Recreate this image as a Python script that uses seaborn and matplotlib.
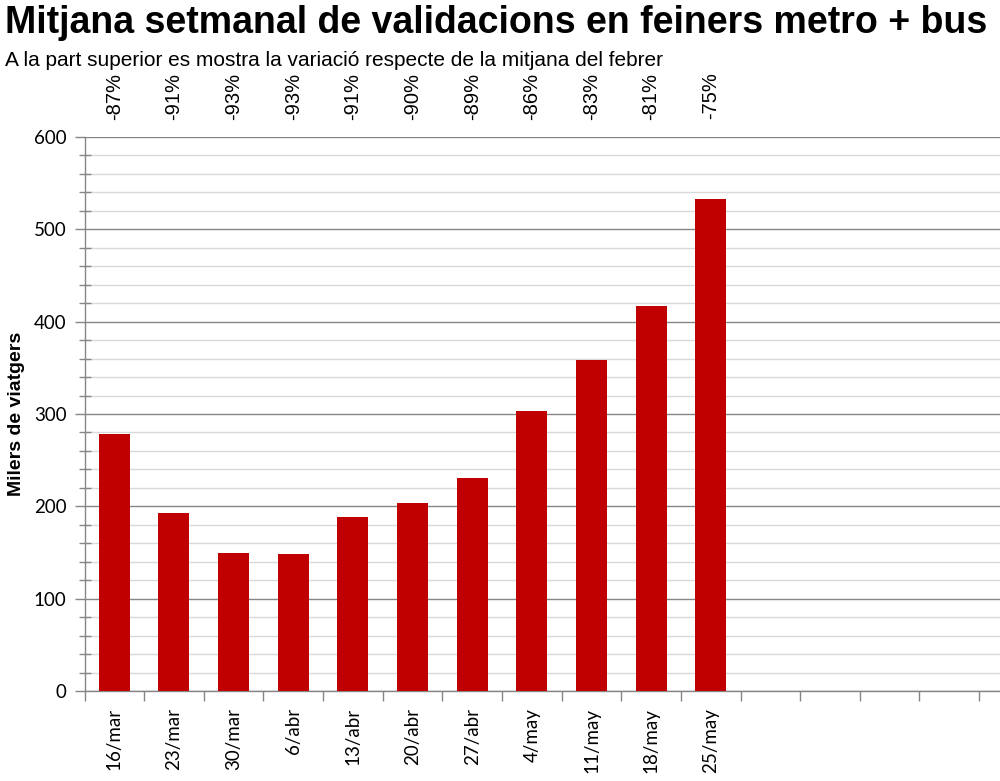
import matplotlib
matplotlib.use('Agg')
import matplotlib.pyplot as plt
import matplotlib.transforms as mtransforms
from matplotlib.ticker import MultipleLocator, FixedLocator, NullFormatter
import pandas as pd
import seaborn as sns

# Data (thousands of passengers)
weeks = ['16/mar', '23/mar', '30/mar', '6/abr', '13/abr', '20/abr',
         '27/abr', '4/may', '11/may', '18/may', '25/may']
values = [278, 193, 150, 148, 189, 204, 231, 303, 358, 417, 533]
pct_change = ['-87%', '-91%', '-93%', '-93%', '-91%', '-90%',
              '-89%', '-86%', '-83%', '-81%', '-75%']

df = pd.DataFrame({'week': weeks, 'value': values})

sns.set_style('white')
plt.rcParams['font.family'] = ['Liberation Sans', 'DejaVu Sans']
plt.rcParams['text.color'] = 'black'
plt.rcParams['xtick.color'] = 'black'
plt.rcParams['ytick.color'] = 'black'
plt.rcParams['axes.labelcolor'] = 'black'

fig = plt.figure(figsize=(10, 7.81), dpi=100)
ax = fig.add_axes([0.0845, 0.1152, 1 - 0.0845, 0.8246 - 0.1152])

sns.barplot(data=df, x='week', y='value', color='#C00000', width=0.52,
            saturation=1, linewidth=0, ax=ax, zorder=3)

# Axis limits: 16 slots, last one cut by the figure edge
ax.set_xlim(-0.5, 14.85)
ax.set_ylim(0, 600)

# Gridlines
ax.yaxis.set_major_locator(MultipleLocator(100))
ax.yaxis.set_minor_locator(MultipleLocator(20))
ax.grid(which='major', axis='y', color='#868686', lw=1, zorder=1)
ax.grid(which='minor', axis='y', color='#d9d9d9', lw=1, zorder=0)
ax.grid(which='major', axis='x', visible=False)

for side in ['top', 'right']:
    ax.spines[side].set_visible(False)
for side in ['left', 'bottom']:
    ax.spines[side].set_color('#868686')
    ax.spines[side].set_linewidth(1)

# x ticks: marks at slot boundaries, labels at centres
ax.xaxis.set_major_locator(FixedLocator([k - 0.5 for k in range(16)]))
ax.xaxis.set_major_formatter(NullFormatter())
ax.set_xticks(range(len(weeks)), labels=weeks, minor=True)
ax.tick_params(axis='x', which='major', direction='out', length=7,
               color='#868686', width=1, bottom=True)
ax.tick_params(axis='x', which='minor', length=0, pad=12, labelrotation=90,
               labelsize=13.5)
for lab in ax.get_xticklabels(minor=True):
    lab.set_fontfamily('Lato')

ax.tick_params(axis='y', which='major', direction='out', length=7,
               color='#868686', width=1, left=True, labelsize=13.5, pad=6)
ax.tick_params(axis='y', which='minor', direction='inout', length=9,
               color='#868686', width=1, left=True)
for lab in ax.get_yticklabels():
    lab.set_fontfamily('Lato')

ax.set_xlabel('')
ax.set_ylabel('Milers de viatgers', fontsize=14, fontweight='bold', labelpad=6)

# Percent variation labels above the plot
trans = mtransforms.blended_transform_factory(ax.transData, fig.transFigure)
for i, p in enumerate(pct_change):
    ax.text(i, 1 - 96 / 781, p, transform=trans, rotation=90,
            ha='center', va='center', fontsize=14.5)

fig.text(0.005, 1 - 5 / 781, 'Mitjana setmanal de validacions en feiners metro + bus',
         fontsize=27, fontweight='bold', ha='left', va='top')
fig.text(0.005, 1 - 61 / 781,
         'A la part superior es mostra la variació respecte de la mitjana del febrer',
         fontsize=15, ha='left', va='center')

fig.savefig('out.png', dpi=100)
